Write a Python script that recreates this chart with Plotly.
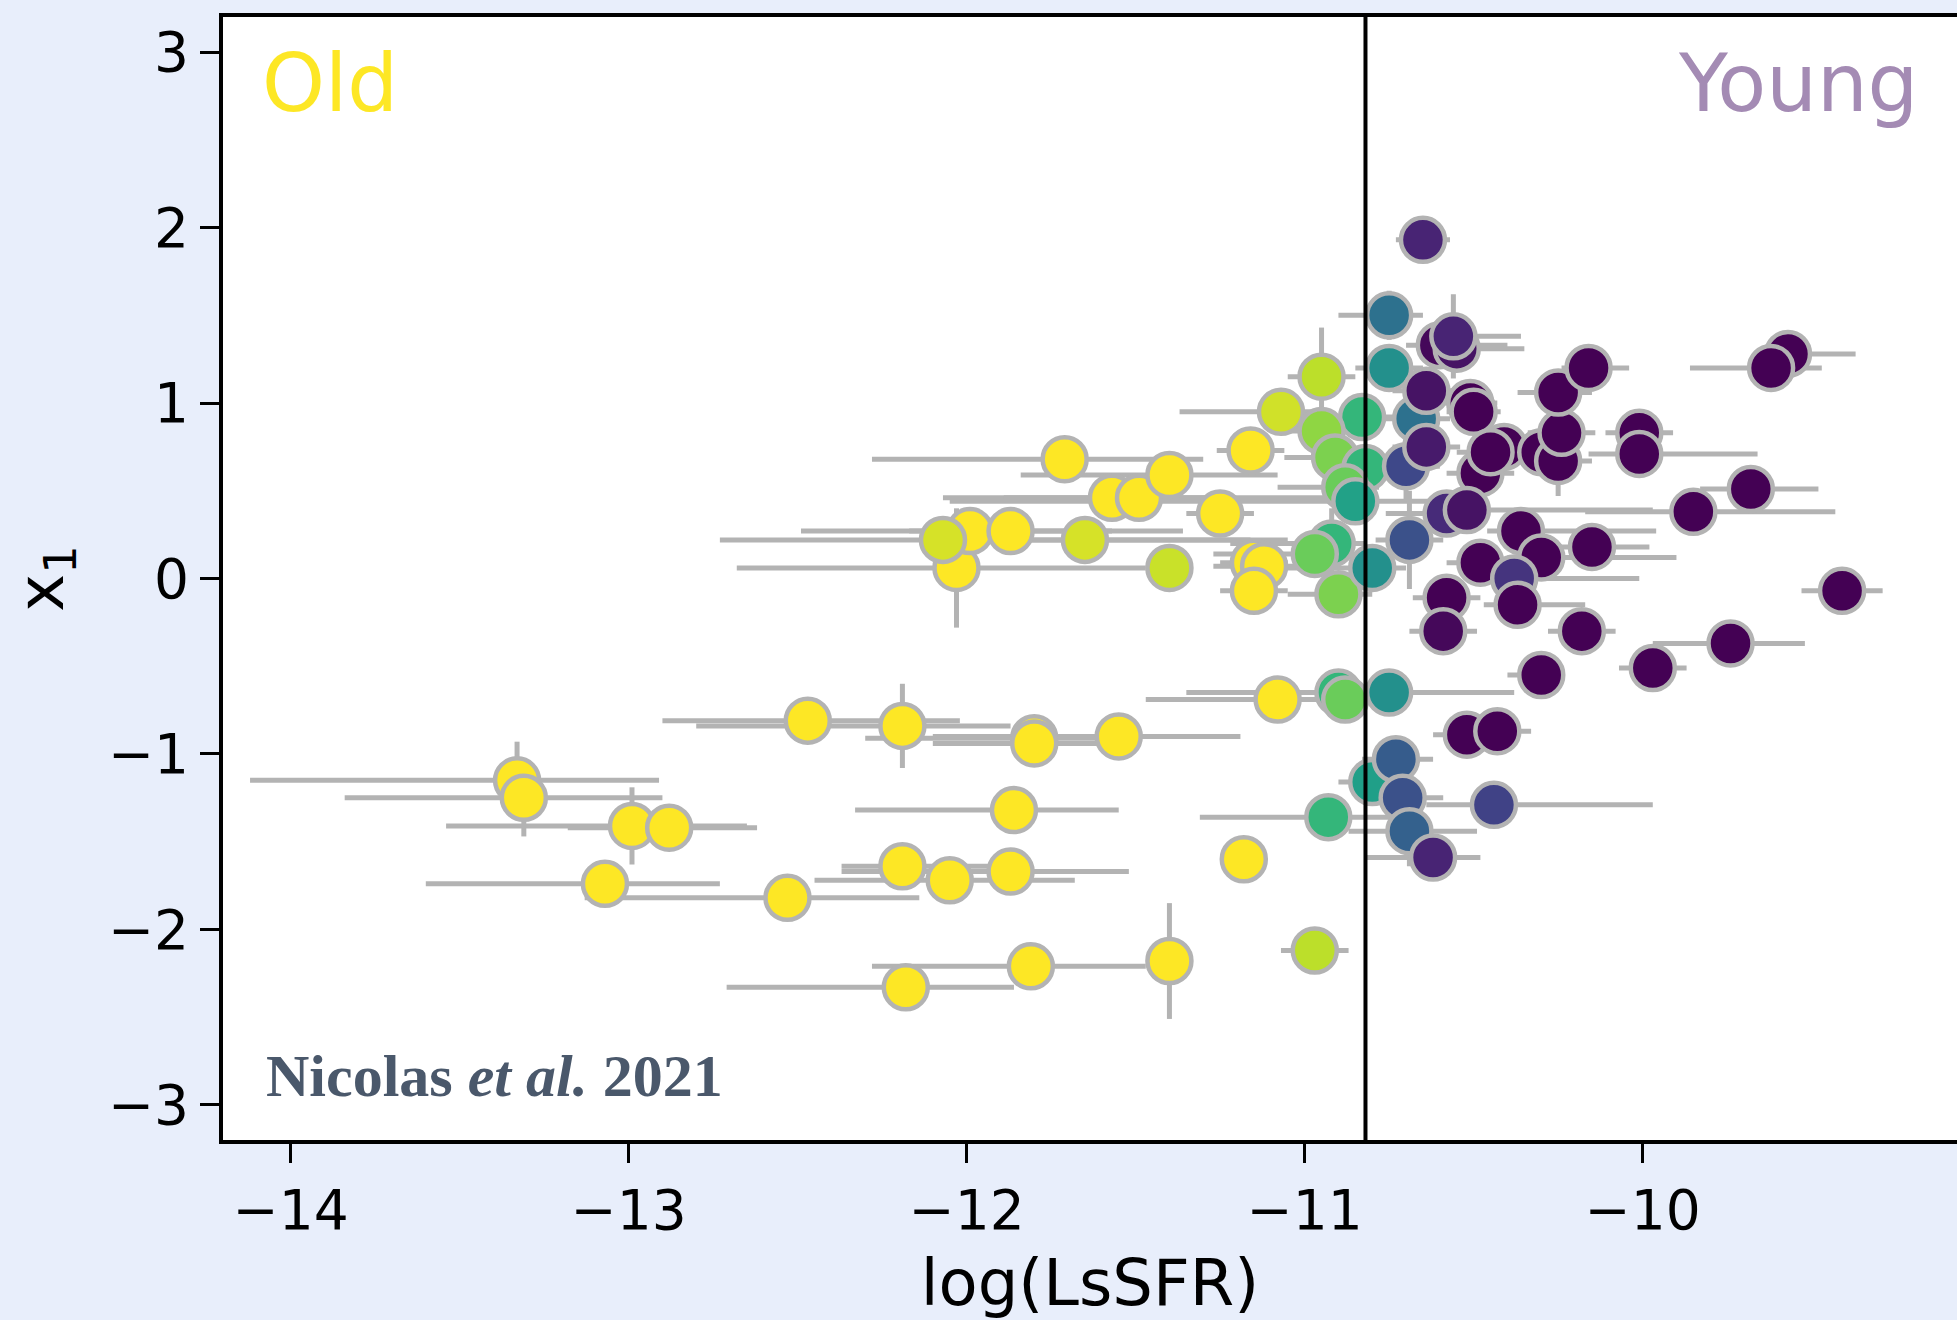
import plotly.graph_objects as go

# ---- data ----
x = [
    # old / yellow
    -13.33, -13.31, -12.99, -12.88, -13.07, -12.53, -12.47, -12.19, -11.80, -11.80,
    -11.55, -11.86, -12.19, -11.87, -12.05, -12.18, -11.81, -11.40, -11.18, -11.08,
    -11.71, -11.57, -11.49, -11.40, -11.25, -11.16, -12.03, -11.99, -11.87, -11.15,
    -11.12, -11.15,
    # yellow-green
    -12.07, -11.65, -11.40, -11.07, -10.95, -10.97,
    # greens
    -10.83, -10.95, -10.91, -10.82, -10.88, -10.85, -10.92, -10.97, -10.90, -10.90,
    -10.88, -10.93, -10.80,
    # teal / blue
    -10.75, -10.75, -10.67, -10.70, -10.69, -10.80, -10.75, -10.73, -10.71, -10.69,
    -10.44, -10.62,
    # purples
    -10.65, -10.60, -10.55, -10.56, -10.64, -10.51, -10.50, -10.64, -10.48, -10.41,
    -10.45, -10.30, -10.25, -10.24, -10.25, -10.16, -10.01, -10.01, -9.57, -9.62,
    -9.68, -9.85, -10.15, -9.41, -10.18, -9.74, -9.97, -10.30, -10.58, -10.52,
    -10.36, -10.48, -10.30, -10.38, -10.37, -10.58, -10.59, -10.52, -10.43,
]
y = [
    -1.15, -1.25, -1.41, -1.42, -1.74, -1.82, -0.81, -0.84, -0.91, -0.94,
    -0.90, -1.32, -1.64, -1.67, -1.72, -2.33, -2.21, -2.18, -1.60, -0.69,
    0.68, 0.46, 0.46, 0.59, 0.37, 0.73, 0.06, 0.27, 0.27, 0.09,
    0.07, -0.07,
    0.22, 0.22, 0.06, 0.95, 1.15, -2.12,
    0.92, 0.84, 0.69, 0.63, 0.52, 0.44, 0.20, 0.14, -0.09, -0.65,
    -0.69, -1.36, -1.16,
    1.50, 1.20, 0.91, 0.64, 0.22, 0.06, -0.65, -1.03, -1.25, -1.44,
    -1.29, -1.59,
    1.93, 1.33, 1.31, 1.38, 1.07, 1.00, 0.95, 0.75, 0.60, 0.75,
    0.72, 0.72, 0.67, 0.83, 1.06, 1.20, 0.83, 0.71, 1.28, 1.20,
    0.51, 0.38, 0.18, -0.07, -0.30, -0.37, -0.51, -0.55, 0.37, 0.39,
    0.27, 0.09, 0.12, 0.00, -0.15, -0.11, -0.30, -0.89, -0.87,
]
xerr_minus = [
    0.79, 0.53, 0.55, 0.30, 0.53, 0.60, 0.43, 0.61, 0.50, 0.30,
    0.55, 0.47, 0.18, 0.50, 0.40, 0.53, 0.47, 0.06, 0.06, 0.39,
    0.57, 0.50, 0.40, 0.44, 0.10, 0.10, 0.65, 0.50, 0.30, 0.10,
    0.15, 0.10,
    0.66, 0.30, 0.05, 0.30, 0.10, 0.10,
    0.10, 0.10, 0.15, 0.10, 0.20, 1.20, 0.30, 0.30, 0.15, 0.45,
    0.10, 0.38, 0.10,
    0.15, 0.10, 0.10, 0.10, 0.10, 0.30, 0.10, 0.10, 0.10, 0.18,
    0.20, 0.20,
    0.08, 0.10, 0.10, 0.10, 0.10, 0.08, 0.08, 0.10, 0.10, 0.10,
    0.10, 0.10, 0.10, 0.10, 0.12, 0.08, 0.10, 0.15, 0.10, 0.24,
    0.15, 0.32, 0.10, 0.12, 0.10, 0.23, 0.10, 0.10, 0.18, 0.10,
    0.10, 0.10, 0.10, 0.10, 0.10, 0.10, 0.10, 0.10, 0.10,
]
xerr_plus = [
    0.42, 0.41, 0.34, 0.26, 0.34, 0.39, 0.45, 0.32, 0.20, 0.30,
    0.36, 0.31, 0.30, 0.35, 0.37, 0.32, 0.34, 0.06, 0.06, 0.20,
    0.41, 0.30, 0.62, 0.32, 0.10, 0.10, 0.56, 0.63, 0.30, 0.10,
    0.10, 0.10,
    0.91, 0.60, 0.05, 0.10, 0.10, 0.10,
    0.10, 0.10, 0.10, 0.10, 0.10, 0.25, 0.10, 0.10, 0.10, 0.43,
    0.10, 0.20, 0.10,
    0.10, 0.10, 0.10, 0.10, 0.10, 0.10, 0.37, 0.11, 0.12, 0.20,
    0.47, 0.14,
    0.08, 0.20, 0.20, 0.20, 0.10, 0.08, 0.08, 0.10, 0.10, 0.10,
    0.10, 0.10, 0.10, 0.10, 0.10, 0.12, 0.10, 0.35, 0.20, 0.15,
    0.20, 0.42, 0.17, 0.12, 0.10, 0.22, 0.10, 0.07, 0.10, 0.55,
    0.40, 0.10, 0.40, 0.37, 0.20, 0.10, 0.10, 0.10, 0.10,
]
yerr = [
    0.22, 0.22, 0.22, 0.08, 0.09, 0.06, 0.08, 0.24, 0.12, 0.05,
    0.05, 0.05, 0.05, 0.05, 0.05, 0.05, 0.08, 0.33, 0.10, 0.05,
    0.08, 0.06, 0.05, 0.06, 0.05, 0.06, 0.34, 0.06, 0.05, 0.05,
    0.05, 0.05,
    0.06, 0.05, 0.10, 0.08, 0.28, 0.05,
    0.10, 0.05, 0.05, 0.10, 0.05, 0.10, 0.20, 0.05, 0.05, 0.05,
    0.05, 0.10, 0.05,
    0.14, 0.08, 0.10, 0.20, 0.28, 0.08, 0.08, 0.08, 0.08, 0.20,
    0.10, 0.08,
    0.10, 0.10, 0.08, 0.24, 0.08, 0.08, 0.08, 0.08, 0.10, 0.08,
    0.08, 0.08, 0.20, 0.08, 0.08, 0.08, 0.08, 0.08, 0.08, 0.08,
    0.08, 0.10, 0.08, 0.08, 0.08, 0.08, 0.08, 0.08, 0.08, 0.08,
    0.08, 0.08, 0.08, 0.08, 0.08, 0.08, 0.08, 0.08, 0.08,
]
p_old = [
    1.0, 1.0, 1.0, 1.0, 1.0, 1.0, 1.0, 1.0, 1.0, 1.0,
    1.0, 1.0, 1.0, 1.0, 1.0, 1.0, 1.0, 1.0, 1.0, 1.0,
    1.0, 1.0, 1.0, 1.0, 1.0, 1.0, 1.0, 1.0, 1.0, 1.0,
    1.0, 1.0,
    0.94, 0.94, 0.92, 0.93, 0.90, 0.90,
    0.66, 0.83, 0.80, 0.66, 0.77, 0.57, 0.66, 0.77, 0.80, 0.66,
    0.77, 0.66, 0.56,
    0.37, 0.50, 0.37, 0.22, 0.25, 0.50, 0.50, 0.29, 0.25, 0.31,
    0.20, 0.10,
    0.10, 0.02, 0.05, 0.10, 0.05, 0.0, 0.0, 0.07, 0.0, 0.0,
    0.0, 0.0, 0.0, 0.0, 0.0, 0.0, 0.0, 0.0, 0.0, 0.0,
    0.0, 0.0, 0.0, 0.0, 0.0, 0.0, 0.0, 0.0, 0.12, 0.05,
    0.0, 0.0, 0.0, 0.15, 0.0, 0.0, 0.02, 0.0, 0.0,
]

x_ticks = [-14, -13, -12, -11, -10]
y_ticks = [-3, -2, -1, 0, 1, 2, 3]
split_lssfr = -10.82

FONT = "DejaVu Sans"
GREY = "#b3b3b3"

fig = go.Figure()
fig.add_trace(go.Scatter(
    x=x, y=y, mode="markers", showlegend=False, hoverinfo="skip",
    error_x=dict(type="data", symmetric=False, array=xerr_plus, arrayminus=xerr_minus,
                 color=GREY, thickness=5, width=0),
    error_y=dict(type="data", array=yerr, color=GREY, thickness=5, width=0),
    marker=dict(size=44, color=p_old, colorscale="Viridis", cmin=0, cmax=1,
                line=dict(color=GREY, width=4.5), opacity=1),
))

fig.add_shape(type="line", xref="x", yref="paper", x0=split_lssfr, x1=split_lssfr,
              y0=0, y1=1, line=dict(color="black", width=4), layer="above")

fig.add_annotation(x=-14.09, y=2.82, xref="x", yref="y", text="Old", showarrow=False,
                   xanchor="left", yanchor="middle",
                   font=dict(family=FONT, size=80, color="#fde725"))
fig.add_annotation(x=-9.18, y=2.82, xref="x", yref="y", text="Young", showarrow=False,
                   xanchor="right", yanchor="middle",
                   font=dict(family=FONT, size=80, color="#a48bb4"))
fig.add_annotation(x=-14.08, y=-2.835, xref="x", yref="y",
                   text="<b>Nicolas <i>et al.</i> 2021</b>", showarrow=False,
                   xanchor="left", yanchor="middle",
                   font=dict(family="Liberation Serif", size=60, color="#4a586b"))

axis_common = dict(
    showgrid=False, zeroline=False, showline=True, linecolor="black", linewidth=4,
    ticks="outside", ticklen=19, tickwidth=3, tickcolor="black",
    tickfont=dict(family=FONT, size=55, color="black"),
)

fig.update_layout(
    width=1957, height=1320, autosize=False,
    paper_bgcolor="#e8eefb", plot_bgcolor="white",
    margin=dict(l=223, r=0, t=17, b=180),
    font=dict(family=FONT, color="black"),
    xaxis=dict(range=[-14.20, -9.07], tickvals=x_ticks, mirror=True,
               title=dict(text="log(LsSFR)", font=dict(family=FONT, size=64), standoff=24),
               **axis_common),
    yaxis=dict(range=[-3.2, 3.2], tickvals=y_ticks, mirror=False,
               title=dict(text="x<sub>1</sub>", font=dict(family=FONT, size=64), standoff=25),
               **axis_common),
)

fig.write_html("out.html")
